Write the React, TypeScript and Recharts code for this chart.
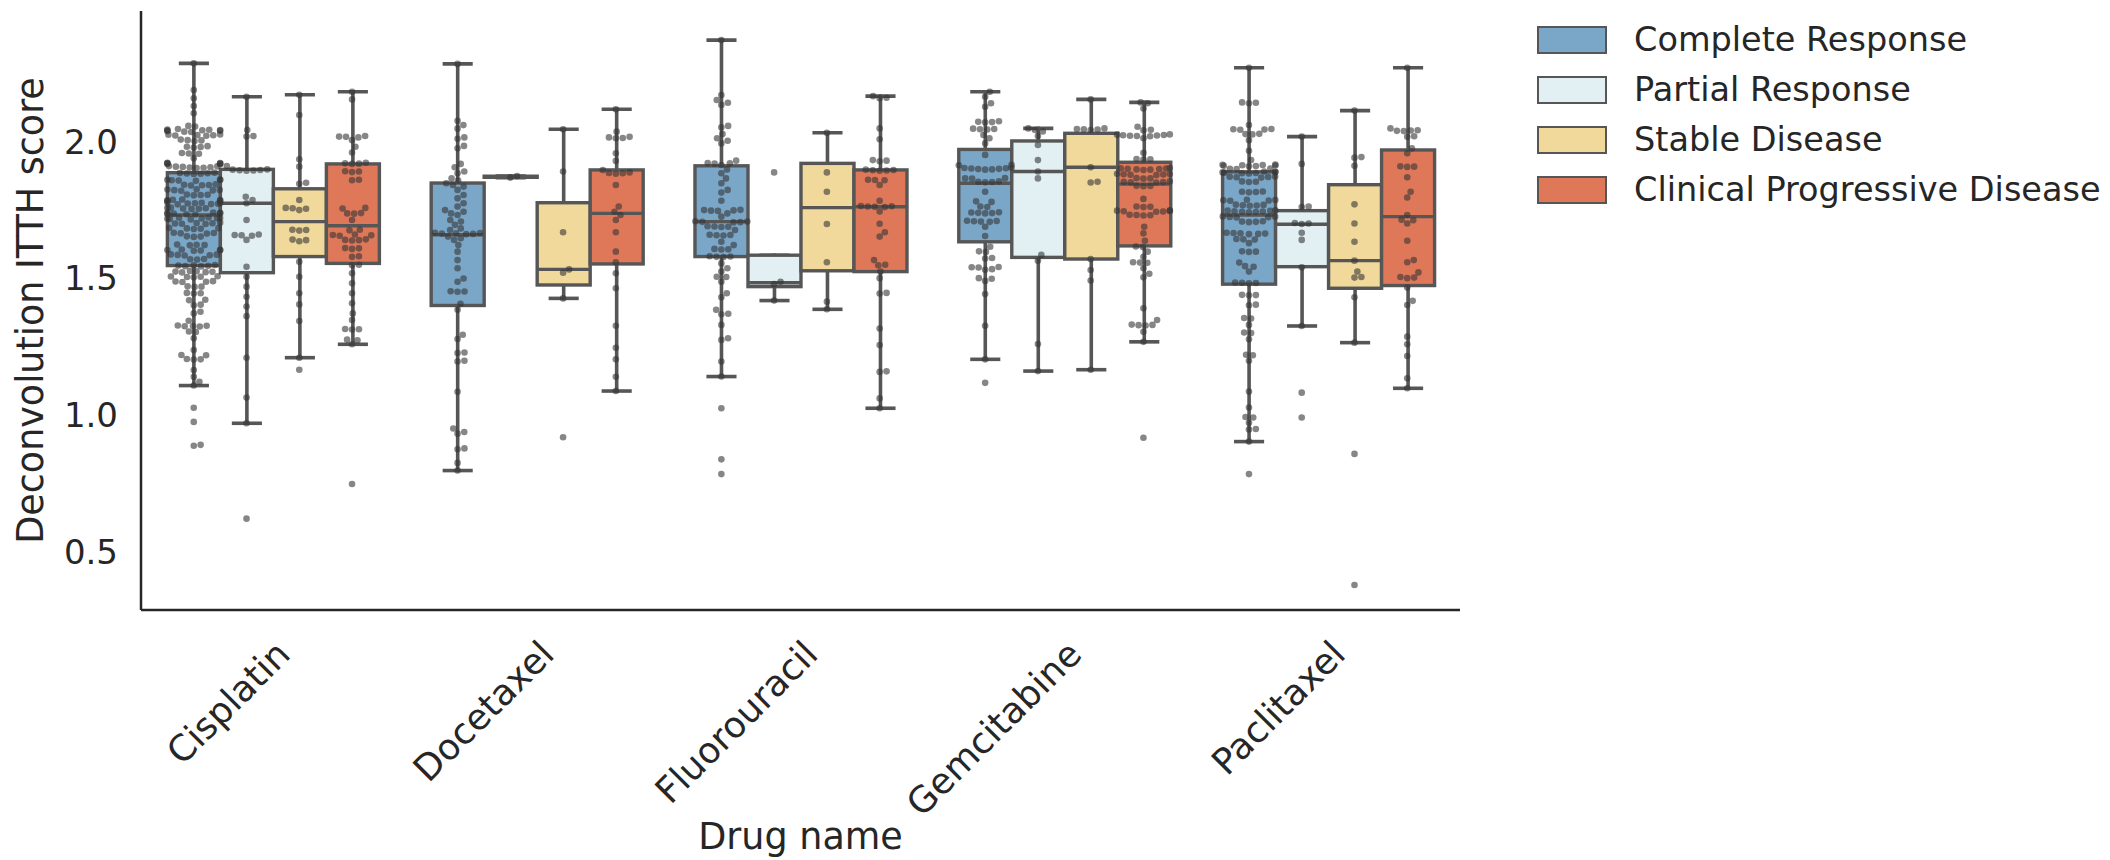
import React from 'react';
import { ComposedChart, Bar, Scatter, XAxis, YAxis, Legend } from 'recharts';

if (typeof document !== 'undefined') {
  document.body.style.margin = '0';
}

const FONT = "'DejaVu Sans', 'Liberation Sans', sans-serif";

// ---------- categories ----------
const drugs = ['Cisplatin', 'Docetaxel', 'Fluorouracil', 'Gemcitabine', 'Paclitaxel'];
const responses = ['Complete Response', 'Partial Response', 'Stable Disease', 'Clinical Progressive Disease'];
const colors = ['#7aa6c8', '#e2f0f4', '#f0d99b', '#df7858'];
const yTicks = [0.5, 1.0, 1.5, 2.0];

// ---------- box statistics: [lowWhisker, q1, median, q3, highWhisker] per drug ----------
const statsCR = [
  [1.107, 1.546, 1.731, 1.886, 2.286],
  [0.796, 1.400, 1.659, 1.848, 2.284],
  [1.140, 1.579, 1.707, 1.911, 2.371],
  [1.203, 1.633, 1.847, 1.971, 2.182],
  [0.902, 1.478, 1.731, 1.889, 2.270],
];
const statsPR = [
  [0.969, 1.520, 1.774, 1.898, 2.164],
  [1.868, 1.869, 1.871, 1.873, 1.874],
  [1.418, 1.469, 1.483, 1.584, 1.584],
  [1.160, 1.576, 1.890, 2.002, 2.048],
  [1.325, 1.542, 1.697, 1.747, 2.018],
];
const statsSD = [
  [1.209, 1.579, 1.707, 1.827, 2.171],
  [1.426, 1.475, 1.532, 1.776, 2.045],
  [1.386, 1.527, 1.758, 1.920, 2.032],
  [1.165, 1.570, 1.906, 2.030, 2.154],
  [1.264, 1.463, 1.564, 1.842, 2.113],
];
const statsCPD = [
  [1.258, 1.554, 1.692, 1.918, 2.182],
  [1.087, 1.552, 1.737, 1.896, 2.118],
  [1.024, 1.524, 1.761, 1.896, 2.166],
  [1.267, 1.618, 1.844, 1.924, 2.143],
  [1.097, 1.473, 1.725, 1.969, 2.270],
];

// ---------- individual sample scores ----------
const cisplatinCR = [
  2.286, 2.188, 2.158, 2.130, 2.103, 2.057, 2.055,
  2.046, 2.044, 2.043, 2.042, 2.041, 2.040, 2.039, 2.038, 2.036, 2.035,
  2.026, 2.025, 2.024, 2.023, 2.022, 2.021,
  2.007, 2.005, 2.004, 2.002,
  1.983, 1.981, 1.980, 1.978,
  1.958, 1.956, 1.955, 1.939,
  1.922, 1.921, 1.920, 1.919, 1.918, 1.917,
  1.910, 1.909, 1.908, 1.907, 1.906, 1.905, 1.904, 1.903,
  1.886, 1.885, 1.884, 1.883, 1.882, 1.881,
  1.861, 1.860, 1.859, 1.858, 1.857, 1.856,
  1.843, 1.842, 1.841, 1.840, 1.839,
  1.825, 1.824, 1.823, 1.822, 1.821, 1.820,
  1.806, 1.805, 1.804, 1.803,
  1.788, 1.787, 1.786, 1.785, 1.784, 1.783,
  1.777, 1.776, 1.775, 1.774, 1.773, 1.772, 1.771, 1.770,
  1.758, 1.757, 1.756, 1.755, 1.754, 1.753,
  1.740, 1.739, 1.738, 1.737, 1.736, 1.735, 1.734, 1.733,
  1.722, 1.721, 1.720, 1.719, 1.718, 1.717, 1.716, 1.715,
  1.703, 1.702, 1.701, 1.700, 1.699, 1.698,
  1.684, 1.683, 1.682, 1.681, 1.680,
  1.666, 1.665, 1.664, 1.663,
  1.653, 1.652, 1.651,
  1.623, 1.622, 1.621, 1.620,
  1.605, 1.604, 1.603, 1.602, 1.601, 1.600,
  1.587, 1.586, 1.585, 1.584, 1.583,
  1.570, 1.569, 1.568,
  1.548, 1.547, 1.546, 1.545, 1.544, 1.543,
  1.526, 1.525, 1.524, 1.523, 1.522, 1.521,
  1.507, 1.506, 1.505, 1.504, 1.503,
  1.489, 1.488, 1.487, 1.486,
  1.470, 1.469, 1.468,
  1.446, 1.445, 1.444,
  1.421, 1.419, 1.403, 1.401,
  1.377, 1.371, 1.344,
  1.327, 1.326, 1.325, 1.324, 1.323,
  1.305, 1.303, 1.280, 1.237, 1.219, 1.218, 1.204, 1.203, 1.202,
  1.164, 1.139, 1.121, 1.107,
  1.026, 0.974, 0.890, 0.887,
];
const cisplatinPR = [
  2.164, 2.042, 2.020, 2.018, 1.910, 1.898, 1.897, 1.896, 1.895, 1.894, 1.893,
  1.798, 1.786, 1.774, 1.713, 1.660, 1.658, 1.657, 1.655, 1.640, 1.542, 1.505,
  1.469, 1.432, 1.396, 1.361, 1.209, 1.063, 0.969, 0.620,
];
const cisplatinSD = [
  2.171, 2.097, 1.935, 1.908, 1.849, 1.845, 1.786, 1.757, 1.756, 1.754, 1.749,
  1.677, 1.676, 1.674, 1.641, 1.639, 1.635, 1.560, 1.505, 1.445, 1.404, 1.343,
  1.209, 1.165,
];
const cisplatinCPD = [
  2.182, 2.154, 2.020, 2.018, 2.017, 2.015, 2.005, 1.981, 1.960, 1.922, 1.920,
  1.919, 1.918, 1.891, 1.890, 1.888, 1.860, 1.858, 1.757, 1.755, 1.738, 1.737,
  1.736, 1.713, 1.677, 1.675, 1.660, 1.658, 1.657, 1.655, 1.642, 1.640, 1.639,
  1.638, 1.610, 1.609, 1.607, 1.580, 1.578, 1.549, 1.547, 1.518, 1.481, 1.445,
  1.408, 1.371, 1.347, 1.314, 1.313, 1.312, 1.275, 1.273, 1.258, 0.747,
];
const docetaxelCR = [
  2.284, 2.076, 2.060, 2.047, 2.015, 2.010, 1.984, 1.975, 1.918, 1.906, 1.890,
  1.884, 1.865, 1.857, 1.847, 1.841, 1.835, 1.823, 1.804, 1.792, 1.774, 1.762,
  1.749, 1.743, 1.737, 1.731, 1.713, 1.707, 1.695, 1.682, 1.676, 1.666, 1.665,
  1.664, 1.663, 1.662, 1.661, 1.652, 1.646, 1.640, 1.621, 1.597, 1.566, 1.536,
  1.499, 1.487, 1.452, 1.451, 1.450, 1.406, 1.384, 1.293, 1.277, 1.228, 1.226,
  1.198, 1.195, 1.084, 0.950, 0.937, 0.931, 0.877, 0.874, 0.824, 0.796,
];
const docetaxelPR = [1.874, 1.868];
const docetaxelSD = [2.045, 1.890, 1.668, 1.532, 1.520, 1.426, 0.918];
const docetaxelCPD = [
  2.118, 2.036, 2.017, 2.015, 2.013, 2.012, 1.957, 1.929, 1.896, 1.887, 1.885,
  1.884, 1.882, 1.841, 1.762, 1.743, 1.731, 1.713, 1.668, 1.597, 1.558, 1.518,
  1.463, 1.326, 1.245, 1.203, 1.139, 1.087,
];
const fluorouracilCR = [
  2.371, 2.170, 2.152, 2.142, 2.134, 2.057, 2.052, 2.027, 2.012, 2.003, 1.993,
  1.930, 1.921, 1.920, 1.919, 1.914, 1.898, 1.884, 1.865, 1.847, 1.823, 1.813,
  1.783, 1.750, 1.749, 1.748, 1.747, 1.746, 1.737, 1.725, 1.708, 1.707, 1.706,
  1.705, 1.704, 1.690, 1.689, 1.688, 1.687, 1.676, 1.659, 1.658, 1.657, 1.656,
  1.633, 1.621, 1.607, 1.606, 1.605, 1.580, 1.579, 1.578, 1.577, 1.554, 1.536,
  1.524, 1.505, 1.504, 1.487, 1.445, 1.430, 1.384, 1.370, 1.368, 1.329, 1.280,
  1.274, 1.195, 1.140, 1.024, 0.837, 0.783,
];
const fluorouracilPR = [1.887, 1.487, 1.478, 1.418];
const fluorouracilSD = [2.032, 1.887, 1.816, 1.698, 1.558, 1.414, 1.386];
const fluorouracilCPD = [
  2.166, 2.160, 2.158, 2.048, 2.008, 1.932, 1.930, 1.928, 1.897, 1.896, 1.895,
  1.894, 1.893, 1.860, 1.859, 1.858, 1.841, 1.783, 1.764, 1.763, 1.762, 1.761,
  1.760, 1.744, 1.699, 1.668, 1.652, 1.566, 1.549, 1.547, 1.524, 1.500, 1.446,
  1.444, 1.316, 1.255, 1.159, 1.157, 1.060, 1.024,
];
const gemcitabineCR = [
  2.182, 2.164, 2.140, 2.127, 2.074, 2.072, 2.071, 2.070, 2.047, 2.046, 2.045,
  2.044, 2.024, 2.012, 1.993, 1.951, 1.915, 1.913, 1.904, 1.903, 1.902, 1.901,
  1.900, 1.899, 1.898, 1.897, 1.866, 1.865, 1.864, 1.854, 1.853, 1.852, 1.851,
  1.816, 1.781, 1.779, 1.762, 1.760, 1.741, 1.740, 1.739, 1.738, 1.737, 1.710,
  1.709, 1.708, 1.707, 1.706, 1.688, 1.654, 1.615, 1.598, 1.596, 1.574, 1.572,
  1.541, 1.540, 1.539, 1.533, 1.531, 1.500, 1.498, 1.490, 1.442, 1.326, 1.203,
  1.117,
];
const gemcitabinePR = [2.048, 2.042, 2.037, 2.020, 1.987, 1.932, 1.890, 1.865, 1.585, 1.564, 1.259, 1.160];
const gemcitabineSD = [2.154, 2.048, 2.046, 2.045, 2.044, 2.042, 1.906, 1.853, 1.850, 1.570, 1.530, 1.491, 1.165];
const gemcitabineCPD = [
  2.143, 2.140, 2.121, 2.054, 2.043, 2.041, 2.026, 2.025, 2.024, 2.023, 2.022,
  2.021, 2.020, 2.019, 2.012, 1.959, 1.936, 1.935, 1.934, 1.903, 1.902, 1.901,
  1.900, 1.899, 1.898, 1.897, 1.896, 1.882, 1.881, 1.880, 1.879, 1.878, 1.877,
  1.866, 1.865, 1.864, 1.854, 1.853, 1.852, 1.851, 1.850, 1.838, 1.837, 1.836,
  1.790, 1.762, 1.761, 1.760, 1.748, 1.747, 1.746, 1.745, 1.744, 1.743, 1.732,
  1.731, 1.730, 1.729, 1.688, 1.664, 1.637, 1.616, 1.614, 1.597, 1.578, 1.558,
  1.557, 1.556, 1.536, 1.516, 1.503, 1.390, 1.347, 1.330, 1.329, 1.328, 1.327,
  1.304, 1.267, 0.916,
];
const paclitaxelCR = [
  2.270, 2.143, 2.142, 2.140, 2.060, 2.046, 2.045, 2.044, 2.043, 2.028, 2.027,
  2.026, 2.005, 1.966, 1.932, 1.916, 1.915, 1.914, 1.913, 1.912, 1.911, 1.910,
  1.909, 1.901, 1.900, 1.899, 1.890, 1.889, 1.888, 1.887, 1.886, 1.885, 1.884,
  1.883, 1.872, 1.871, 1.870, 1.869, 1.868, 1.854, 1.853, 1.852, 1.817, 1.816,
  1.815, 1.814, 1.787, 1.786, 1.785, 1.784, 1.783, 1.769, 1.768, 1.767, 1.766,
  1.765, 1.748, 1.747, 1.746, 1.745, 1.744, 1.743, 1.742, 1.741, 1.726, 1.725,
  1.724, 1.723, 1.722, 1.708, 1.707, 1.706, 1.705, 1.666, 1.665, 1.664, 1.663,
  1.662, 1.661, 1.643, 1.642, 1.641, 1.628, 1.598, 1.597, 1.596, 1.557, 1.544,
  1.542, 1.524, 1.484, 1.483, 1.482, 1.481, 1.439, 1.438, 1.437, 1.403, 1.401,
  1.354, 1.352, 1.329, 1.301, 1.299, 1.276, 1.220, 1.218, 1.198, 1.085, 1.027,
  0.992, 0.990, 0.971, 0.948, 0.946, 0.902, 0.783,
];
const paclitaxelPR = [2.018, 1.918, 1.762, 1.760, 1.702, 1.700, 1.698, 1.666, 1.640, 1.540, 1.325, 1.081, 0.990];
const paclitaxelSD = [2.113, 1.943, 1.941, 1.911, 1.770, 1.700, 1.633, 1.564, 1.524, 1.504, 1.502, 1.430, 1.264, 0.857, 0.377];
const paclitaxelCPD = [
  2.270, 2.048, 2.041, 2.040, 2.039, 2.038, 2.019, 2.017, 1.975, 1.957, 1.909,
  1.908, 1.907, 1.869, 1.816, 1.795, 1.731, 1.714, 1.712, 1.700, 1.637, 1.566,
  1.558, 1.521, 1.504, 1.502, 1.500, 1.466, 1.417, 1.402, 1.286, 1.258, 1.215,
  1.134, 1.097,
];

// ---------- layout ----------
const CHART_W = 2110;
const CHART_H = 860;
const MARGIN = { top: 11, right: 650, bottom: 0, left: 0 };
const YAXIS_W = 141;
const XAXIS_H = 250;
const Y_DOMAIN: [number, number] = [0.2858, 2.4775];
const PLOT_W = CHART_W - MARGIN.right - MARGIN.left - YAXIS_W;
const PLOT_H = CHART_H - MARGIN.top - MARGIN.bottom - XAXIS_H;
const BAND_PX = PLOT_W / drugs.length;
const PX_PER_UNIT_Y = PLOT_H / (Y_DOMAIN[1] - Y_DOMAIN[0]);
const POINT_R = 3.3;
const EDGE = '#565656';
const AXIS_COLOR = '#262626';

const allStats = [statsCR, statsPR, statsSD, statsCPD];
const pointSets = [
  [cisplatinCR, docetaxelCR, fluorouracilCR, gemcitabineCR, paclitaxelCR],
  [cisplatinPR, docetaxelPR, fluorouracilPR, gemcitabinePR, paclitaxelPR],
  [cisplatinSD, docetaxelSD, fluorouracilSD, gemcitabineSD, paclitaxelSD],
  [cisplatinCPD, docetaxelCPD, fluorouracilCPD, gemcitabineCPD, paclitaxelCPD],
];

// seaborn-like beeswarm layout (pixel offsets), then clamped to the gutter
function swarmOffsets(values: number[], r: number, halfWidth: number): number[] {
  const order = values.map((_, i) => i).sort((a, b) => values[a] - values[b]);
  const placed: { x: number; y: number }[] = [];
  const out = new Array(values.length).fill(0);
  const d = 2 * r;
  for (const i of order) {
    const y = -values[i] * PX_PER_UNIT_Y;
    const neighbors = placed.filter((p) => Math.abs(p.y - y) < d);
    const cands = [0];
    for (const p of neighbors) {
      const dy = y - p.y;
      const dx = Math.sqrt(Math.max(d * d - dy * dy, 0)) * 1.05;
      cands.push(p.x + dx, p.x - dx);
    }
    const sorted = cands.map((c, k) => ({ c, k })).sort((a, b) => Math.abs(a.c) - Math.abs(b.c) || a.k - b.k);
    let chosen = 0;
    for (const { c } of sorted) {
      if (neighbors.every((p) => (p.x - c) * (p.x - c) + (p.y - y) * (p.y - y) >= d * d * 0.999)) {
        chosen = c;
        break;
      }
    }
    placed.push({ x: chosen, y });
    out[i] = Math.max(-halfWidth, Math.min(halfWidth, chosen));
  }
  return out;
}

const rows = drugs.map((drug, d) => {
  const row: Record<string, any> = { drug };
  allStats.forEach((stats, h) => {
    const s = stats[d];
    row[`w${h}`] = [s[0], s[4]];
    row[`b${h}`] = [s[1], s[3]];
    row[`m${h}`] = s[2];
  });
  return row;
});

const points: { x: number; y: number }[] = [];
pointSets.forEach((sets, h) => {
  sets.forEach((vals, d) => {
    const offs = swarmOffsets(vals, POINT_R, (BAND_PX * 0.2) / 2);
    vals.forEach((v, k) => {
      points.push({ x: d + (h - 1.5) * 0.2 + offs[k] / BAND_PX, y: v });
    });
  });
});

const WhiskerShape = (props: any) => {
  const { x, y, width, height } = props;
  if (x == null || y == null) return null;
  const top = Math.min(y, y + height);
  const bot = Math.max(y, y + height);
  const cx = x + width / 2;
  const cap = width * 0.25;
  return (
    <g stroke={EDGE} strokeWidth={3.6} strokeLinecap="square">
      <line x1={cx} x2={cx} y1={top} y2={bot} />
      <line x1={cx - cap} x2={cx + cap} y1={top} y2={top} />
      <line x1={cx - cap} x2={cx + cap} y1={bot} y2={bot} />
    </g>
  );
};

const makeBoxShape = (h: number) => (props: any) => {
  const { x, y, width, height, payload } = props;
  if (x == null || y == null) return null;
  const top = Math.min(y, y + height);
  const hh = Math.abs(height);
  const [q1, q3] = payload[`b${h}`];
  const med = payload[`m${h}`];
  const my = q3 - q1 > 0 ? top + ((q3 - med) / (q3 - q1)) * hh : top;
  return (
    <g>
      <rect x={x} y={top} width={width} height={hh} fill={colors[h]} stroke={EDGE} strokeWidth={3.4} />
      <line x1={x} x2={x + width} y1={my} y2={my} stroke={EDGE} strokeWidth={3.4} />
    </g>
  );
};

const PointShape = (props: any) => {
  const { cx, cy } = props;
  if (cx == null || cy == null) return null;
  return <circle cx={cx} cy={cy} r={POINT_R} fill="#363636" fillOpacity={0.6} />;
};

const XTick = (props: any) => {
  const { x, y, payload } = props;
  return (
    <text
      x={x}
      y={y}
      dy="0.76em"
      transform={`rotate(-45, ${x}, ${y})`}
      textAnchor="end"
      fontSize={36}
      fontFamily={FONT}
      fill={AXIS_COLOR}
    >
      {payload.value}
    </text>
  );
};

const LegendContent = () => (
  <div style={{ fontFamily: FONT, fontSize: 33.5, color: AXIS_COLOR }}>
    {responses.map((r, i) => (
      <div key={r} style={{ display: 'flex', alignItems: 'center', height: 50 }}>
        <div
          style={{
            width: 70,
            height: 28,
            background: colors[i],
            border: `2px solid ${EDGE}`,
            boxSizing: 'border-box',
            flex: 'none',
          }}
        />
        <span style={{ marginLeft: 27, whiteSpace: 'nowrap', lineHeight: 1 }}>{r}</span>
      </div>
    ))}
  </div>
);

export default function App() {
  const plotCenterX = MARGIN.left + YAXIS_W + PLOT_W / 2;
  const plotCenterY = MARGIN.top + PLOT_H / 2;
  return (
    <div style={{ width: CHART_W, height: CHART_H, position: 'relative', background: '#fff' }}>
      <ComposedChart
        width={CHART_W}
        height={CHART_H}
        data={rows}
        margin={MARGIN}
        barCategoryGap="10%"
        barGap={0}
      >
        <XAxis
          xAxisId="b"
          dataKey="drug"
          type="category"
          height={XAXIS_H}
          tick={<XTick />}
          tickLine={false}
          tickSize={0}
          tickMargin={27}
          interval={0}
          axisLine={{ stroke: AXIS_COLOR, strokeWidth: 2.5 }}
        />
        <XAxis xAxisId="w" dataKey="drug" type="category" hide />
        <XAxis xAxisId="n" dataKey="x" type="number" domain={[-0.5, 4.5]} allowDataOverflow hide />
        <YAxis
          type="number"
          width={YAXIS_W}
          domain={Y_DOMAIN}
          allowDataOverflow
          ticks={yTicks}
          tickFormatter={(v: number) => v.toFixed(1)}
          tickLine={false}
          tickSize={0}
          tickMargin={23}
          axisLine={{ stroke: AXIS_COLOR, strokeWidth: 2.5 }}
          tick={{ fontSize: 34, fontFamily: FONT, fill: AXIS_COLOR }}
        />
        {responses.map((r, h) => (
          <Bar
            key={`w${h}`}
            xAxisId="w"
            dataKey={`w${h}`}
            shape={WhiskerShape}
            isAnimationActive={false}
            legendType="none"
          />
        ))}
        {responses.map((r, h) => (
          <Bar
            key={`b${h}`}
            xAxisId="b"
            dataKey={`b${h}`}
            name={r}
            fill={colors[h]}
            shape={makeBoxShape(h)}
            isAnimationActive={false}
          />
        ))}
        <Scatter
          xAxisId="n"
          data={points}
          dataKey="y"
          shape={PointShape}
          isAnimationActive={false}
          legendType="none"
        />
        <Legend
          layout="vertical"
          align="center"
          verticalAlign="middle"
          content={() => <LegendContent />}
          wrapperStyle={{ left: 1537, top: 15, width: 570, height: 210 }}
        />
        <text
          x={plotCenterX}
          y={849}
          textAnchor="middle"
          fontSize={36.5}
          fontFamily={FONT}
          fill={AXIS_COLOR}
        >
          Drug name
        </text>
        <text
          x={43}
          y={plotCenterY}
          transform={`rotate(-90, 43, ${plotCenterY})`}
          textAnchor="middle"
          fontSize={36.5}
          fontFamily={FONT}
          fill={AXIS_COLOR}
        >
          Deconvolution ITTH score
        </text>
      </ComposedChart>
    </div>
  );
}
